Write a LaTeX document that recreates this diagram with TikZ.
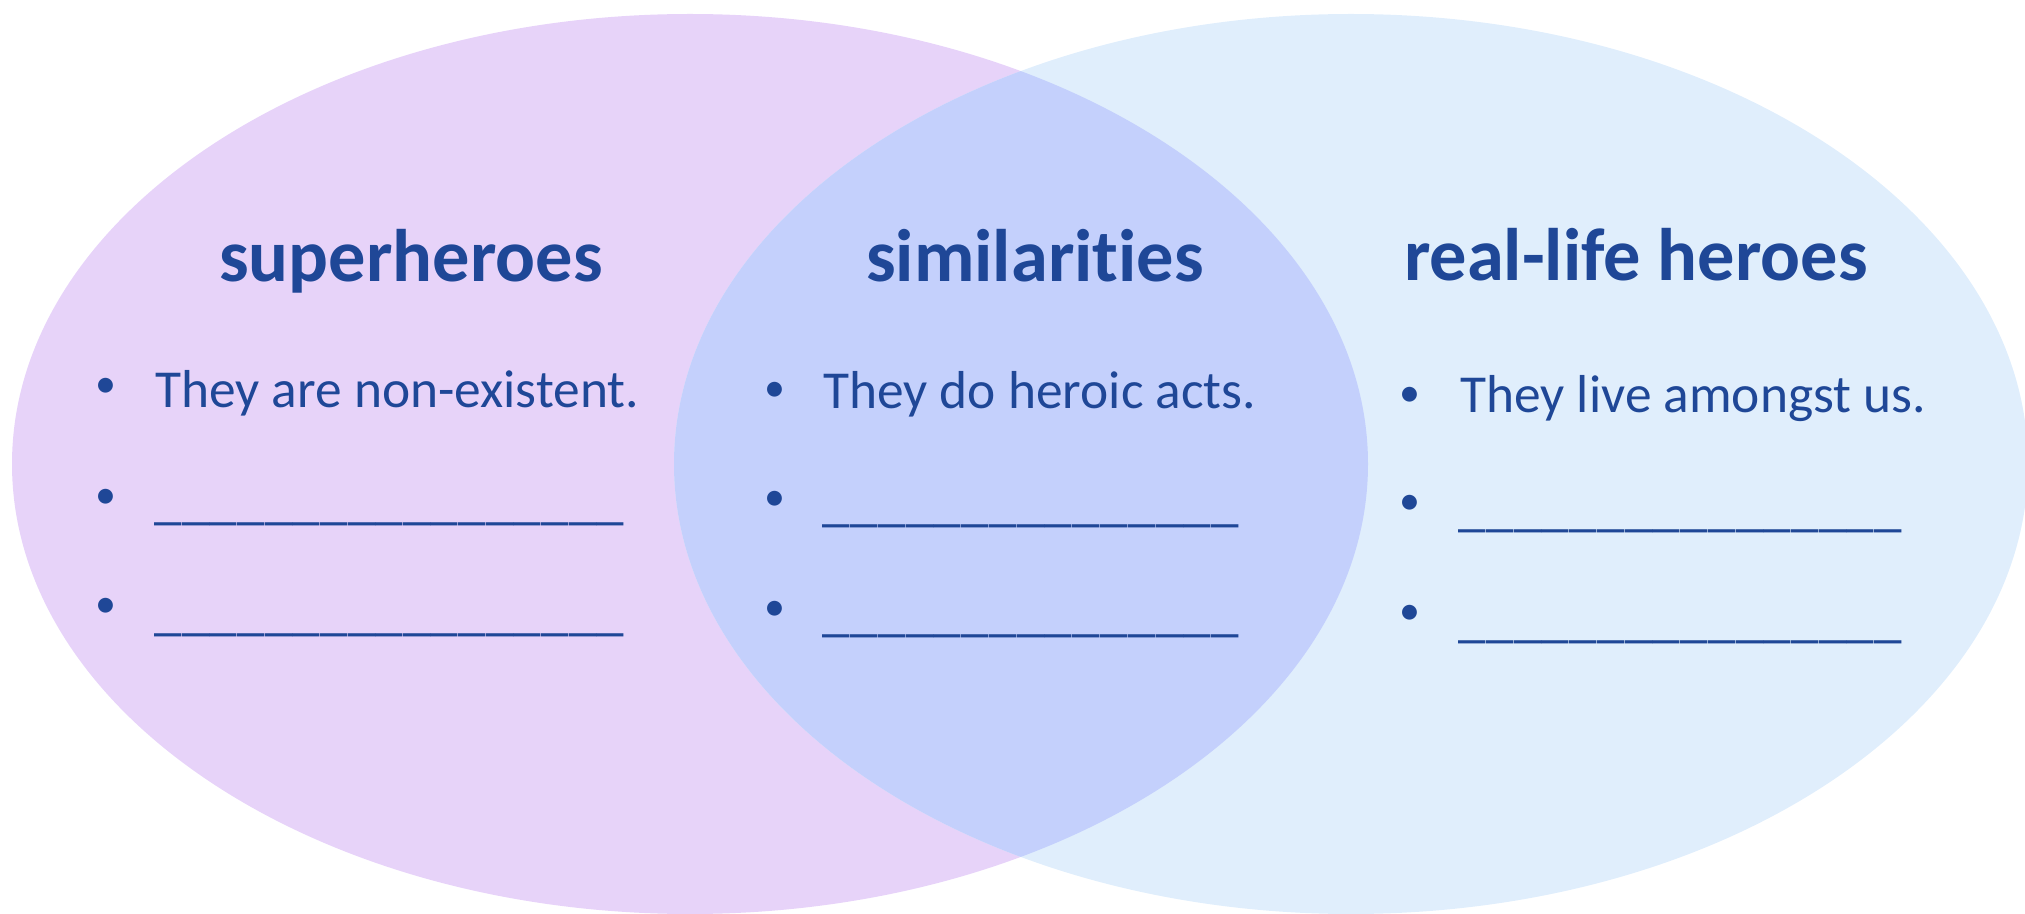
\documentclass[tikz,border=0pt]{standalone}
\usepackage{fontspec}
\setmainfont{Carlito}[Ligatures=NoCommon]
\definecolor{lav}{RGB}{231,211,249}
\definecolor{sky}{RGB}{224,238,252}
\definecolor{lens}{RGB}{196,208,252}
\definecolor{ink}{RGB}{31,71,151}
\newcommand\blankline[1]{\hbox to #1{\xleaders\hbox{\_}\hfill}}
\tikzset{
  head/.style={anchor=base, inner sep=0pt, text=ink, font=\fontsize{37.2}{44}\selectfont\bfseries},
  body/.style={anchor=base west, inner sep=0pt, text=ink, font=\fontsize{26.7}{32}\selectfont},
  dot/.style={anchor=center, inner sep=0pt, text=ink, font=\fontsize{21}{25}\selectfont},
  blank/.style={anchor=base west, inner sep=0pt, text=ink, font=\fontsize{27.5}{33}\selectfont},
}
\begin{document}
\begin{tikzpicture}[x=0.5pt, y=-0.5pt]
\useasboundingbox (0,0) rectangle (2025,914);
% circles
\fill[lav] (690,464) ellipse [x radius=339pt, y radius=225pt];
\fill[sky] (1351,464) ellipse [x radius=338.5pt, y radius=225pt];
\begin{scope}
  \clip (690,464) ellipse [x radius=339pt, y radius=225pt];
  \fill[lens] (1351,464) ellipse [x radius=338.5pt, y radius=225pt];
\end{scope}
% left
\node[head] (hL) at (411,282) {superheroes};
\node[dot] (bL1) at (106,388) {•};
\node[body] (tL1) at (155,408) {They are non-existent.};
\node[dot] (bL2) at (106,499) {•};
\node[blank] (lL2) at (154,519) {\blankline{235pt}};
\node[dot] (bL3) at (106,608) {•};
\node[blank] (lL3) at (154,629) {\blankline{235pt}};
% middle
\node[head] (hM) at (1035,282) {similarities};
\node[dot] (bM1) at (775,392) {•};
\node[body] (tM1) at (823,409) {They do heroic acts.};
\node[dot] (bM2) at (775,501) {•};
\node[blank] (lM2) at (822,521) {\blankline{208.5pt}};
\node[dot] (bM3) at (775,611) {•};
\node[blank] (lM3) at (822,631) {\blankline{208.5pt}};
% right
\node[head] (hR) at (1636,281) {real-life heroes};
\node[dot] (bR1) at (1410,397) {•};
\node[body] (tR1) at (1460,413) {They live amongst us.};
\node[dot] (bR2) at (1410,505) {•};
\node[blank] (lR2) at (1458,526) {\blankline{222pt}};
\node[dot] (bR3) at (1410,615) {•};
\node[blank] (lR3) at (1458,636) {\blankline{222pt}};
\end{tikzpicture}
\end{document}
